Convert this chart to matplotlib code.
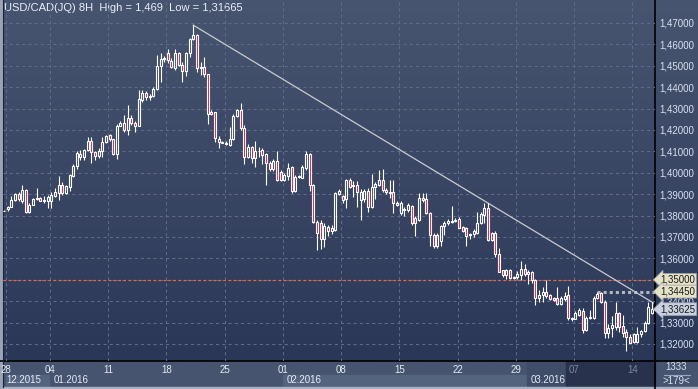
import numpy as np
import matplotlib.pyplot as plt
from matplotlib.colors import LinearSegmentedColormap
from matplotlib.patches import Rectangle

plt.rcParams['font.family'] = ['Liberation Sans', 'DejaVu Sans']

W, H = 698, 389

# 8H candles, USD/CAD, 25.12.2015 .. 15.03.2016
opens = [1.3823, 1.3832, 1.3841, 1.3873, 1.3900, 1.3870, 1.3920, 1.3818, 1.3850, 1.3876,
         1.3884, 1.3869, 1.3866, 1.3870, 1.3892, 1.3907, 1.3943, 1.3907, 1.3935, 1.3987,
         1.4030, 1.4090, 1.4075, 1.4107, 1.4150, 1.4095, 1.4078, 1.4103, 1.4145, 1.4177,
         1.4156, 1.4088, 1.4220, 1.4235, 1.4200, 1.4255, 1.4232, 1.4220, 1.4340, 1.4374,
         1.4355, 1.4360, 1.4390, 1.4499, 1.4530, 1.4560, 1.4524, 1.4488, 1.4560, 1.4505,
         1.4477, 1.4558, 1.4624, 1.4645, 1.4488, 1.4493, 1.4462, 1.4277, 1.4282, 1.4160,
         1.4145, 1.4140, 1.4130, 1.4160, 1.4267, 1.4293, 1.4208, 1.4075, 1.4122, 1.4067,
         1.4100, 1.4108, 1.4086, 1.4047, 1.4016, 1.4055, 1.4003, 1.3968, 1.3983, 1.4028,
         1.3914, 1.3980, 1.3978, 1.4022, 1.4088, 1.3943, 1.3769, 1.3765, 1.3690, 1.3748,
         1.3730, 1.3733, 1.3902, 1.3892, 1.3876, 1.3966, 1.3936, 1.3943, 1.3873, 1.3876,
         1.3915, 1.3842, 1.3932, 1.3943, 1.3966, 1.3920, 1.3905, 1.3910, 1.3860, 1.3811,
         1.3832, 1.3825, 1.3843, 1.3789, 1.3779, 1.3881, 1.3877, 1.3811, 1.3709, 1.3658,
         1.3683, 1.3752, 1.3765, 1.3768, 1.3777, 1.3786, 1.3748, 1.3741, 1.3710, 1.3712,
         1.3718, 1.3765, 1.3805, 1.3835, 1.3686, 1.3720, 1.3620, 1.3545, 1.3522, 1.3547,
         1.3513, 1.3511, 1.3523, 1.3552, 1.3527, 1.3535, 1.3497, 1.3413, 1.3428, 1.3445,
         1.3428, 1.3413, 1.3413, 1.3385, 1.3410, 1.3430, 1.3323, 1.3318, 1.3336, 1.3356,
         1.3266, 1.3321, 1.3320, 1.3414, 1.3437, 1.3398, 1.3251, 1.3274, 1.3281, 1.3343,
         1.3284, 1.3258, 1.3231, 1.3209, 1.3210, 1.3245, 1.3262, 1.3297, 1.3345]
highs = [1.3826, 1.3846, 1.3890, 1.3905, 1.3910, 1.3943, 1.3925, 1.3858, 1.3880, 1.3928,
         1.3888, 1.3890, 1.3897, 1.3912, 1.3930, 1.3985, 1.3955, 1.3945, 1.3996, 1.4040,
         1.4100, 1.4108, 1.4110, 1.4168, 1.4166, 1.4100, 1.4115, 1.4166, 1.4178, 1.4182,
         1.4160, 1.4227, 1.4243, 1.4270, 1.4317, 1.4270, 1.4243, 1.4387, 1.4387, 1.4380,
         1.4370, 1.4400, 1.4550, 1.4558, 1.4545, 1.4578, 1.4535, 1.4578, 1.4565, 1.4520,
         1.4566, 1.4630, 1.4690, 1.4648, 1.4520, 1.4543, 1.4464, 1.4295, 1.4285, 1.4170,
         1.4150, 1.4148, 1.4215, 1.4273, 1.4300, 1.4328, 1.4222, 1.4133, 1.4126, 1.4150,
         1.4120, 1.4117, 1.4093, 1.4055, 1.4063, 1.4102, 1.4011, 1.4000, 1.4047, 1.4032,
         1.3992, 1.3990, 1.4035, 1.4100, 1.4092, 1.3946, 1.3780, 1.3780, 1.3765, 1.3755,
         1.3755, 1.3912, 1.3926, 1.3897, 1.3970, 1.3978, 1.3964, 1.3960, 1.3922, 1.3925,
         1.3929, 1.3995, 1.3955, 1.4013, 1.4016, 1.3928, 1.3966, 1.3966, 1.3866, 1.3866,
         1.3840, 1.3860, 1.3850, 1.3797, 1.3904, 1.3907, 1.3904, 1.3815, 1.3717, 1.3717,
         1.3757, 1.3773, 1.3784, 1.3845, 1.3787, 1.3795, 1.3753, 1.3748, 1.3717, 1.3738,
         1.3818, 1.3815, 1.3857, 1.3857, 1.3725, 1.3728, 1.3647, 1.3548, 1.3550, 1.3552,
         1.3518, 1.3540, 1.3588, 1.3575, 1.3545, 1.3540, 1.3503, 1.3450, 1.3467, 1.3497,
         1.3435, 1.3420, 1.3467, 1.3425, 1.3445, 1.3470, 1.3328, 1.3352, 1.3366, 1.3366,
         1.3329, 1.3357, 1.3425, 1.3445, 1.3445, 1.3406, 1.3292, 1.3331, 1.3398, 1.3350,
         1.3335, 1.3268, 1.3249, 1.3251, 1.3280, 1.3265, 1.3308, 1.3398, 1.3398]
lows = [1.3820, 1.3823, 1.3840, 1.3866, 1.3866, 1.3857, 1.3814, 1.3814, 1.3848, 1.3872,
        1.3866, 1.3857, 1.3835, 1.3835, 1.3885, 1.3873, 1.3895, 1.3900, 1.3915, 1.3980,
        1.4020, 1.4060, 1.4060, 1.4100, 1.4047, 1.4060, 1.4070, 1.4075, 1.4140, 1.4150,
        1.4085, 1.4063, 1.4218, 1.4192, 1.4177, 1.4225, 1.4190, 1.4217, 1.4333, 1.4340,
        1.4340, 1.4356, 1.4386, 1.4426, 1.4520, 1.4515, 1.4488, 1.4480, 1.4500, 1.4426,
        1.4450, 1.4540, 1.4620, 1.4472, 1.4457, 1.4446, 1.4228, 1.4270, 1.4143, 1.4115,
        1.4137, 1.4130, 1.4125, 1.4155, 1.4262, 1.4200, 1.4041, 1.4067, 1.4047, 1.4025,
        1.4075, 1.4042, 1.3943, 1.4008, 1.4008, 1.3962, 1.3962, 1.3962, 1.3968, 1.3904,
        1.3910, 1.3975, 1.3975, 1.4015, 1.3913, 1.3766, 1.3639, 1.3643, 1.3652, 1.3705,
        1.3712, 1.3730, 1.3897, 1.3858, 1.3837, 1.3927, 1.3889, 1.3842, 1.3779, 1.3865,
        1.3818, 1.3834, 1.3878, 1.3938, 1.3910, 1.3900, 1.3882, 1.3810, 1.3845, 1.3803,
        1.3800, 1.3818, 1.3758, 1.3705, 1.3776, 1.3865, 1.3808, 1.3658, 1.3650, 1.3650,
        1.3658, 1.3710, 1.3757, 1.3765, 1.3770, 1.3740, 1.3722, 1.3658, 1.3690, 1.3700,
        1.3715, 1.3761, 1.3767, 1.3683, 1.3680, 1.3608, 1.3535, 1.3515, 1.3505, 1.3502,
        1.3503, 1.3502, 1.3498, 1.3520, 1.3482, 1.3485, 1.3382, 1.3398, 1.3398, 1.3416,
        1.3405, 1.3400, 1.3383, 1.3380, 1.3400, 1.3311, 1.3308, 1.3315, 1.3333, 1.3250,
        1.3262, 1.3316, 1.3316, 1.3410, 1.3390, 1.3227, 1.3227, 1.3235, 1.3266, 1.3257,
        1.3235, 1.31665, 1.3203, 1.3204, 1.3204, 1.3235, 1.3258, 1.3293, 1.3340]
closes = [1.3823, 1.3841, 1.3873, 1.3900, 1.3877, 1.3920, 1.3818, 1.3850, 1.3876, 1.3884,
          1.3869, 1.3872, 1.3889, 1.3896, 1.3912, 1.3943, 1.3907, 1.3940, 1.3990, 1.4033,
          1.4094, 1.4075, 1.4105, 1.4150, 1.4095, 1.4078, 1.4103, 1.4145, 1.4172, 1.4156,
          1.4088, 1.4220, 1.4232, 1.4200, 1.4255, 1.4232, 1.4220, 1.4343, 1.4374, 1.4355,
          1.4360, 1.4390, 1.4499, 1.4530, 1.4535, 1.4525, 1.4496, 1.4560, 1.4505, 1.4477,
          1.4558, 1.4624, 1.4644, 1.4488, 1.4493, 1.4462, 1.4275, 1.4282, 1.4161, 1.4145,
          1.4140, 1.4135, 1.4160, 1.4267, 1.4293, 1.4208, 1.4075, 1.4122, 1.4067, 1.4102,
          1.4104, 1.4082, 1.4047, 1.4016, 1.4055, 1.3965, 1.3968, 1.3990, 1.4022, 1.3914,
          1.3981, 1.3985, 1.4025, 1.4087, 1.3943, 1.3769, 1.3718, 1.3690, 1.3753, 1.3730,
          1.3740, 1.3907, 1.3917, 1.3873, 1.3966, 1.3935, 1.3944, 1.3912, 1.3912, 1.3915,
          1.3842, 1.3935, 1.3948, 1.3966, 1.3920, 1.3908, 1.3910, 1.3860, 1.3850, 1.3860,
          1.3826, 1.3850, 1.3766, 1.3766, 1.3881, 1.3873, 1.3811, 1.3709, 1.3658, 1.3709,
          1.3752, 1.3765, 1.3777, 1.3777, 1.3780, 1.3743, 1.3730, 1.3705, 1.3713, 1.3730,
          1.3765, 1.3808, 1.3835, 1.3686, 1.3720, 1.3620, 1.3538, 1.3522, 1.3545, 1.3507,
          1.3508, 1.3527, 1.3552, 1.3527, 1.3537, 1.3497, 1.3414, 1.3428, 1.3443, 1.3425,
          1.3410, 1.3407, 1.3385, 1.3413, 1.3422, 1.3320, 1.3315, 1.3343, 1.3357, 1.3266,
          1.3321, 1.3326, 1.3414, 1.3434, 1.3398, 1.3250, 1.3277, 1.3289, 1.3343, 1.3281,
          1.3253, 1.3231, 1.3206, 1.3245, 1.3248, 1.3261, 1.3297, 1.3375, 1.33625]

week_labels = ['28', '04', '11', '18', '25', '01', '08', '15', '22', '29', '07', '14']
week_idx = [1, 13, 29, 45, 61, 77, 93, 109, 125, 141, 157, 173]
month_labels = ['12.2015', '01.2016', '02.2016', '03.2016']
month_idx = [0, 13, 77, 144]
price_ticks = [1.32, 1.33, 1.34, 1.35, 1.36, 1.37, 1.38, 1.39, 1.40, 1.41,
               1.42, 1.43, 1.44, 1.45, 1.46, 1.47]
trend_x = [52, 178.4]
trend_y = [1.469, 1.3392]
level_orange = 1.35
level_gray = 1.3445
level_gray_start = 163
last_price = 1.33625
title = 'USD/CAD(JQ) 8H  High = 1,469  Low = 1,31665'

BULL_FACE = 'none'
BEAR_FACE = '#e0143c'
TXT = '#d6e0f0'


def fmt(p):
    return ('%.5f' % p).replace('.', ',')


fig = plt.figure(figsize=(W / 100, H / 100), dpi=100)

# pixel-space background layer
bg = fig.add_axes([0, 0, 1, 1])
bg.set_xlim(0, W)
bg.set_ylim(H, 0)
bg.axis('off')
cmap = LinearSegmentedColormap.from_list('bg', ['#485570', '#2b3757'])
bg.imshow(np.linspace(0, 1, 256).reshape(-1, 1), cmap=cmap, aspect='auto',
          extent=[0, W, 361, 0], zorder=0)
bg.add_patch(Rectangle((0, 361), W, 28, color='#46546f', zorder=1))
bg.add_patch(Rectangle((6, 375), 43, 12, color='#55647e', zorder=1))
bg.add_patch(Rectangle((283, 375), 244, 12, color='#55647e', zorder=1))
bg.add_patch(Rectangle((527, 361), 39, 26, color='#3f4d69', zorder=1))
bg.add_patch(Rectangle((566, 361), 89, 26, color='#28324c', zorder=1))
bg.add_patch(Rectangle((0, 387), W, 2, color='#aab2c0', zorder=2))
bg.add_patch(Rectangle((0, 0), 2, H, color='#9aa3b3', zorder=2))
bg.plot([0, W], [361, 361], color='black', lw=1.2, zorder=3)
bg.plot([655, 655], [0, 389], color='black', lw=1.2, zorder=3)
bg.plot([2.5, 2.5], [0, 387], color='#1c2438', lw=0.8, zorder=3)
bg.text(4, 8, title, color='#e8eef8', fontsize=8, va='center', ha='left', zorder=4)
bg.text(676, 367.5, '1333', color=TXT, fontsize=7, ha='center', va='center', zorder=4)
bg.plot([664, 690], [374.5, 374.5], color='#9aa6bb', lw=0.8, zorder=4)
bg.text(676, 380.5, '>179<', color=TXT, fontsize=7, ha='center', va='center', zorder=4)

# main chart
ax = fig.add_axes([3 / W, 1 - 361 / H, 652 / W, 361 / H])
ax.set_facecolor('none')
for s in ax.spines.values():
    s.set_visible(False)
ax.set_xlim(-0.275, 178.85)
ax.set_ylim(1.47 - 338 / 2140, 1.47 + 23 / 2140)

grid_kw = dict(color='#5d6c8a', lw=0.75, ls=(0, (3, 3)), zorder=1)
for p in price_ticks:
    ax.axhline(p, **grid_kw)
for w in week_idx:
    ax.axvline(w - 0.4, **grid_kw)

ax.axhline(level_orange, color='#e86a38', lw=0.9, ls=(0, (2, 2)), zorder=2)
ax.hlines(level_gray, level_gray_start, 178.85, color='#b4b8c2', lw=2.2,
          ls=(0, (1, 1)), zorder=2)
ax.plot(trend_x, trend_y, color='#c8cad0', lw=0.9, zorder=3)

o = np.array(opens)
h = np.array(highs)
l = np.array(lows)
c = np.array(closes)
x = np.arange(len(o))
top = np.maximum(o, c)
bot = np.minimum(o, c)
ax.vlines(x, top, h, color='white', lw=0.8, zorder=4)
ax.vlines(x, l, bot, color='white', lw=0.8, zorder=4)
faces = [BULL_FACE if cc >= oo else BEAR_FACE for oo, cc in zip(o, c)]
ax.bar(x, top - bot, bottom=bot, width=0.55, color=faces, edgecolor='white',
       linewidth=0.8, zorder=5)

# axes ticks
ax.yaxis.tick_right()
ax.set_yticks(price_ticks)
ax.set_yticklabels([fmt(p) for p in price_ticks])
ax.set_xticks([w - 0.4 for w in week_idx])
ax.set_xticklabels(week_labels)
ax.tick_params(axis='y', length=0, pad=3, labelsize=7, labelcolor=TXT)
ax.tick_params(axis='x', length=0, pad=3, labelsize=7, labelcolor='#e4eaf4')
for lab in ax.get_xticklabels()[-2:]:
    lab.set_color('#7c889e')

for name, m in zip(month_labels, month_idx):
    ax.text(m + 0.6, -0.054, name, transform=ax.get_xaxis_transform(),
            color='#e4eaf4', fontsize=7, ha='left', va='center', clip_on=False)

# price markers on right axis
yt = ax.get_yaxis_transform()
for lvl, face in [(level_orange, '#e6e2c6'), (level_gray, '#e6e2c6'),
                  (last_price, '#c9d1e0')]:
    ax.annotate(fmt(lvl), xy=(1.003, lvl), xycoords=yt, xytext=(1.008, lvl),
                textcoords=yt, fontsize=7, color='#1a1a1a', va='center', ha='left',
                bbox=dict(boxstyle='larrow,pad=0.15', fc=face, ec='#9098a8', lw=0.5),
                annotation_clip=False, zorder=10)

fig.savefig('out.png', dpi=100)
